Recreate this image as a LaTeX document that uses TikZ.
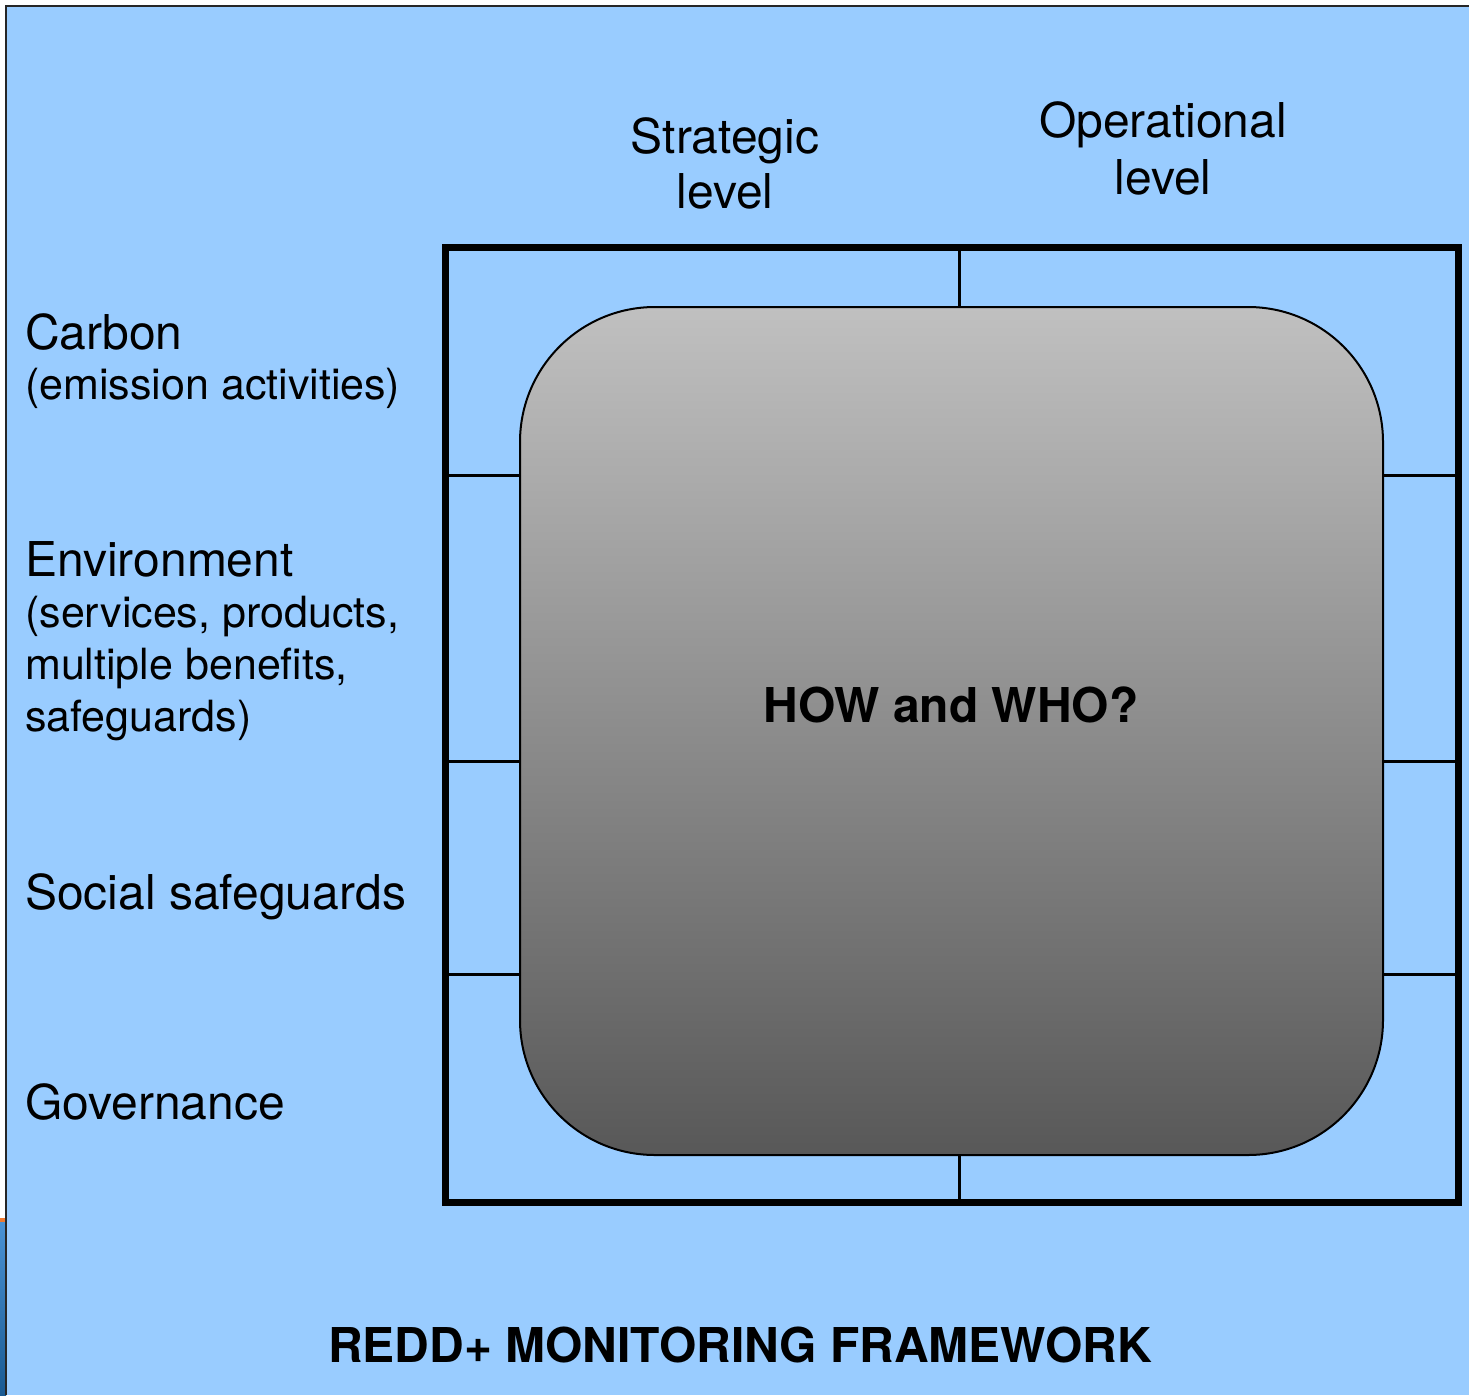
\documentclass[tikz,border=0pt]{standalone}
\usepackage{fontspec}
\setmainfont{TeX Gyre Heros}
\definecolor{bgblue}{HTML}{99CCFF}
\definecolor{stripor}{HTML}{F07A30}
\definecolor{striptop}{HTML}{4A92D4}
\definecolor{stripbot}{HTML}{1A5A92}
\definecolor{coretop}{HTML}{C0C0C0}
\definecolor{coremid}{HTML}{9C9C9C}
\definecolor{corebot}{HTML}{585858}
\begin{document}
\begin{tikzpicture}[x=1pt,y=-1pt,
  bigtxt/.style={font=\fontsize{48}{57}\selectfont, inner sep=0pt},
  smalltxt/.style={font=\fontsize{43}{52}\selectfont, inner sep=0pt},
  boldtxt/.style={font=\fontsize{48}{57}\selectfont\bfseries, inner sep=0pt},
  gridline/.style={line width=3pt, black},
  framebox/.style={draw=black, line width=7pt, minimum width=1012.5pt, minimum height=954.5pt, inner sep=0pt},
  corebox/.style={draw=black, line width=2pt, rounded corners=135pt, minimum width=863pt, minimum height=848pt, inner sep=0pt,
    top color=coretop, middle color=coremid, bottom color=corebot}]
\useasboundingbox (0,0) rectangle (1469,1395);
% page background and fragments
\fill[white] (0,0) rectangle (1469,1395);
\shade[top color=striptop, bottom color=stripbot] (0,1222) rectangle (6,1395);
\fill[stripor] (0,1218) rectangle (6,1222);
\fill[bgblue] (6,5) rectangle (1469,1395);
\draw[line width=2pt, black!85] (5.5,1395) -- (5.5,5.5) -- (1469,5.5);
% grid lines
\draw[gridline] (959,247.5) -- (959,1202);
\foreach \yy in {475,761,974} { \draw[gridline] (445.5,\yy) -- (1458,\yy); }
% core rounded box
\node[corebox] (core) at (951.5,731) {};
% outer frame
\node[framebox] (frame) at (951.75,724.75) {};
% column headings
\node[bigtxt, anchor=base] (strat1) at (725,153) {Strategic};
\node[bigtxt, anchor=base] (strat2) at (725,208) {level};
\node[bigtxt, anchor=base] (oper1) at (1163,137) {Operational};
\node[bigtxt, anchor=base] (oper2) at (1163,194) {level};
% row headings
\node[bigtxt, anchor=base west] (carb1) at (25,349) {Carbon};
\node[smalltxt, anchor=base west] (carb2) at (25,399) {(emission activities)};
\node[bigtxt, anchor=base west] (env1) at (25,576) {Environment};
\node[smalltxt, anchor=base west] (env2) at (25,627) {(services, products,};
\node[smalltxt, anchor=base west] (env3) at (25,679) {multiple benefits,};
\node[smalltxt, anchor=base west] (env4) at (25,731) {safeguards)};
\node[bigtxt, anchor=base west] (soc) at (25,909) {Social safeguards};
\node[bigtxt, anchor=base west] (gov) at (25,1119) {Governance};
% centre and title
\node[boldtxt, anchor=base] (how) at (951,722) {HOW and WHO?};
\node[boldtxt, anchor=base] (title) at (740,1362) {REDD+ MONITORING FRAMEWORK};
\end{tikzpicture}
\end{document}
